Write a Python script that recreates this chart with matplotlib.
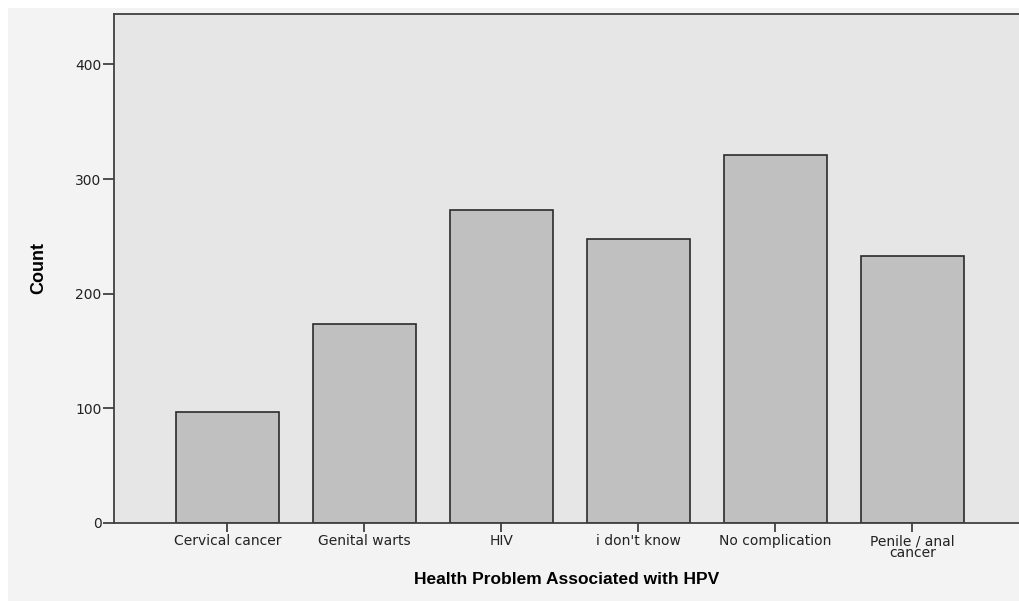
import matplotlib.pyplot as plt
from matplotlib.patches import Rectangle

# data
categories = ["Cervical cancer", "Genital warts", "HIV", "i don't know",
              "No complication", "Penile / anal\ncancer"]
counts = [97, 174, 273, 248, 321, 233]
yticks = [0, 100, 200, 300, 400]

plt.rcParams['font.family'] = ['DejaVu Sans']

fig = plt.figure(figsize=(10.2, 6.01), dpi=100)
fig.patch.set_facecolor("white")
# light gray panel behind everything (SPSS style)
fig.patches.append(Rectangle((8/1020, 0), 1, 1 - 8/601, transform=fig.transFigure,
                             facecolor="#f3f3f3", edgecolor="none", zorder=-1))

ax = fig.add_axes([114/1020, 78/601, 906/1020, 509/601])
ax.set_facecolor("#e6e6e6")

x = range(len(categories))
ax.bar(x, counts, width=0.75, color="#c0c0c0", edgecolor="#2b2b2b", linewidth=1.2, zorder=2)

ax.set_xlim(-0.828, 5.785)
ax.set_ylim(0, 444)
ax.set_yticks(yticks)
ax.set_xticks(list(x))
ax.set_xticklabels(categories, fontsize=10, linespacing=0.8, color="#222222")
ax.tick_params(axis="y", length=8, width=1.3, pad=1, labelsize=10, colors="#404040", labelcolor="#222222")
ax.tick_params(axis="x", length=6.5, width=1.3, pad=1.5, colors="#404040", labelcolor="#222222")

for s in ["left", "bottom", "top"]:
    ax.spines[s].set_color("#404040")
    ax.spines[s].set_linewidth(1.3)
ax.spines["right"].set_visible(False)

ax.set_xlabel("Health Problem Associated with HPV", fontsize=12.5, fontweight="bold",
              family=['Liberation Sans', 'DejaVu Sans'], labelpad=9)
ax.set_ylabel("Count", fontsize=13, fontweight="bold",
              family=['Liberation Sans', 'DejaVu Sans'], labelpad=20)

fig.savefig("out.png", dpi=100, facecolor=fig.get_facecolor())
